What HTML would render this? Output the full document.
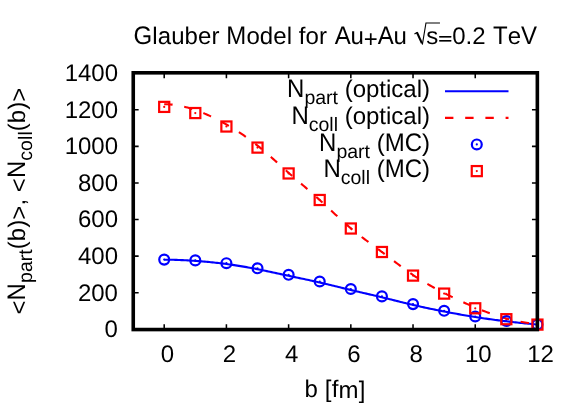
<!DOCTYPE html>
<html><head><meta charset="utf-8"><title>Glauber Model</title>
<style>html,body{margin:0;padding:0;background:#fff}svg{display:block;will-change:transform;text-rendering:geometricPrecision;font-kerning:none}</style></head>
<body>
<svg width="581" height="407" viewBox="0 0 581 407">
<rect width="581" height="407" fill="#fff"/>
<path d="M164.20 329.55V324.15M164.20 72.80V78.20M226.41 329.55V324.15M226.41 72.80V78.20M288.62 329.55V324.15M288.62 72.80V78.20M350.83 329.55V324.15M350.83 72.80V78.20M413.03 329.55V324.15M413.03 72.80V78.20M475.24 329.55V324.15M475.24 72.80V78.20M537.45 329.55V324.15M537.45 72.80V78.20M133.25 329.30H138.65M537.35 329.30H531.95M133.25 292.71H138.65M537.35 292.71H531.95M133.25 256.13H138.65M537.35 256.13H531.95M133.25 219.54H138.65M537.35 219.54H531.95M133.25 182.96H138.65M537.35 182.96H531.95M133.25 146.37H138.65M537.35 146.37H531.95M133.25 109.79H138.65M537.35 109.79H531.95M133.25 73.20H138.65M537.35 73.20H531.95" stroke="#000" stroke-width="1.55" fill="none"/>
<polyline points="164.20,259.70 165.76,259.70 167.31,259.71 168.87,259.73 170.42,259.75 171.98,259.78 173.53,259.82 175.09,259.86 176.64,259.91 178.20,259.97 179.75,260.03 181.31,260.09 182.86,260.16 184.42,260.24 185.97,260.32 187.53,260.40 189.08,260.49 190.64,260.59 192.19,260.69 193.75,260.79 195.30,260.90 196.86,261.01 198.41,261.13 199.97,261.25 201.53,261.37 203.08,261.50 204.64,261.63 206.19,261.77 207.75,261.91 209.30,262.06 210.86,262.21 212.41,262.36 213.97,262.52 215.52,262.69 217.08,262.86 218.63,263.04 220.19,263.22 221.74,263.40 223.30,263.60 224.85,263.80 226.41,264.00 227.96,264.21 229.52,264.43 231.07,264.65 232.63,264.87 234.18,265.11 235.74,265.34 237.29,265.59 238.85,265.84 240.41,266.09 241.96,266.35 243.52,266.61 245.07,266.88 246.63,267.15 248.18,267.43 249.74,267.72 251.29,268.00 252.85,268.30 254.40,268.59 255.96,268.89 257.51,269.20 259.07,269.51 260.62,269.82 262.18,270.14 263.73,270.46 265.29,270.78 266.84,271.11 268.40,271.44 269.95,271.77 271.51,272.10 273.06,272.44 274.62,272.77 276.18,273.11 277.73,273.45 279.29,273.78 280.84,274.12 282.40,274.46 283.95,274.80 285.51,275.13 287.06,275.47 288.62,275.80 290.17,276.13 291.73,276.46 293.28,276.79 294.84,277.12 296.39,277.45 297.95,277.78 299.50,278.10 301.06,278.43 302.61,278.76 304.17,279.09 305.72,279.42 307.28,279.75 308.83,280.09 310.39,280.42 311.94,280.76 313.50,281.10 315.06,281.45 316.61,281.80 318.17,282.15 319.72,282.50 321.28,282.86 322.83,283.22 324.39,283.59 325.94,283.95 327.50,284.32 329.05,284.70 330.61,285.07 332.16,285.45 333.72,285.83 335.27,286.21 336.83,286.59 338.38,286.97 339.94,287.35 341.49,287.73 343.05,288.12 344.60,288.50 346.16,288.87 347.71,289.25 349.27,289.63 350.83,290.00 352.38,290.37 353.94,290.74 355.49,291.11 357.05,291.47 358.60,291.84 360.16,292.20 361.71,292.56 363.27,292.92 364.82,293.28 366.38,293.64 367.93,294.00 369.49,294.37 371.04,294.73 372.60,295.09 374.15,295.45 375.71,295.82 377.26,296.19 378.82,296.56 380.37,296.93 381.93,297.30 383.48,297.68 385.04,298.05 386.59,298.44 388.15,298.82 389.71,299.20 391.26,299.59 392.82,299.97 394.37,300.36 395.93,300.74 397.48,301.13 399.04,301.51 400.59,301.90 402.15,302.28 403.70,302.66 405.26,303.04 406.81,303.42 408.37,303.79 409.92,304.17 411.48,304.53 413.03,304.90 414.59,305.26 416.14,305.62 417.70,305.97 419.25,306.32 420.81,306.67 422.36,307.01 423.92,307.35 425.48,307.69 427.03,308.02 428.59,308.36 430.14,308.68 431.70,309.01 433.25,309.33 434.81,309.65 436.36,309.96 437.92,310.27 439.47,310.58 441.03,310.89 442.58,311.20 444.14,311.50 445.69,311.80 447.25,312.10 448.80,312.39 450.36,312.69 451.91,312.98 453.47,313.26 455.02,313.55 456.58,313.83 458.13,314.11 459.69,314.39 461.24,314.66 462.80,314.93 464.36,315.20 465.91,315.47 467.47,315.73 469.02,315.99 470.58,316.25 472.13,316.50 473.69,316.75 475.24,317.00 476.80,317.24 478.35,317.49 479.91,317.72 481.46,317.96 483.02,318.19 484.57,318.42 486.13,318.64 487.68,318.87 489.24,319.09 490.79,319.30 492.35,319.52 493.90,319.73 495.46,319.93 497.01,320.14 498.57,320.34 500.13,320.54 501.68,320.73 503.24,320.92 504.79,321.11 506.35,321.30 507.90,321.48 509.46,321.66 511.01,321.84 512.57,322.02 514.12,322.19 515.68,322.36 517.23,322.53 518.79,322.70 520.34,322.86 521.90,323.02 523.45,323.19 525.01,323.35 526.56,323.51 528.12,323.66 529.67,323.82 531.23,323.98 532.78,324.13 534.34,324.29 535.89,324.44 537.45,324.60" fill="none" stroke="#0000ff" stroke-width="2.1"/>
<polyline points="164.20,104.20 165.76,104.22 167.31,104.27 168.87,104.35 170.42,104.46 171.98,104.60 173.53,104.77 175.09,104.98 176.64,105.21 178.20,105.47 179.75,105.75 181.31,106.07 182.86,106.41 184.42,106.77 185.97,107.16 187.53,107.58 189.08,108.02 190.64,108.48 192.19,108.96 193.75,109.47 195.30,110.00 196.86,110.55 198.41,111.12 199.97,111.71 201.53,112.32 203.08,112.95 204.64,113.60 206.19,114.26 207.75,114.95 209.30,115.65 210.86,116.37 212.41,117.11 213.97,117.87 215.52,118.64 217.08,119.43 218.63,120.24 220.19,121.06 221.74,121.90 223.30,122.75 224.85,123.62 226.41,124.50 227.96,125.40 229.52,126.31 231.07,127.23 232.63,128.17 234.18,129.13 235.74,130.10 237.29,131.09 238.85,132.10 240.41,133.12 241.96,134.16 243.52,135.22 245.07,136.29 246.63,137.39 248.18,138.50 249.74,139.64 251.29,140.79 252.85,141.96 254.40,143.15 255.96,144.37 257.51,145.60 259.07,146.86 260.62,148.13 262.18,149.42 263.73,150.74 265.29,152.06 266.84,153.40 268.40,154.75 269.95,156.12 271.51,157.49 273.06,158.87 274.62,160.26 276.18,161.65 277.73,163.05 279.29,164.45 280.84,165.85 282.40,167.25 283.95,168.64 285.51,170.03 287.06,171.42 288.62,172.80 290.17,174.17 291.73,175.54 293.28,176.90 294.84,178.25 296.39,179.60 297.95,180.94 299.50,182.29 301.06,183.63 302.61,184.97 304.17,186.31 305.72,187.66 307.28,189.01 308.83,190.36 310.39,191.71 311.94,193.07 313.50,194.44 315.06,195.82 316.61,197.20 318.17,198.60 319.72,200.00 321.28,201.42 322.83,202.84 324.39,204.28 325.94,205.72 327.50,207.16 329.05,208.61 330.61,210.06 332.16,211.51 333.72,212.96 335.27,214.41 336.83,215.85 338.38,217.28 339.94,218.71 341.49,220.12 343.05,221.53 344.60,222.91 346.16,224.29 347.71,225.64 349.27,226.98 350.83,228.30 352.38,229.60 353.94,230.87 355.49,232.13 357.05,233.37 358.60,234.59 360.16,235.80 361.71,236.99 363.27,238.17 364.82,239.35 366.38,240.51 367.93,241.67 369.49,242.82 371.04,243.97 372.60,245.11 374.15,246.25 375.71,247.40 377.26,248.54 378.82,249.69 380.37,250.84 381.93,252.00 383.48,253.17 385.04,254.34 386.59,255.52 388.15,256.70 389.71,257.88 391.26,259.06 392.82,260.25 394.37,261.43 395.93,262.61 397.48,263.78 399.04,264.95 400.59,266.12 402.15,267.27 403.70,268.41 405.26,269.55 406.81,270.67 408.37,271.77 409.92,272.87 411.48,273.94 413.03,275.00 414.59,276.04 416.14,277.06 417.70,278.06 419.25,279.05 420.81,280.02 422.36,280.97 423.92,281.91 425.48,282.83 427.03,283.74 428.59,284.64 430.14,285.52 431.70,286.39 433.25,287.25 434.81,288.10 436.36,288.94 437.92,289.77 439.47,290.59 441.03,291.40 442.58,292.20 444.14,293.00 445.69,293.79 447.25,294.57 448.80,295.35 450.36,296.12 451.91,296.88 453.47,297.64 455.02,298.39 456.58,299.13 458.13,299.87 459.69,300.60 461.24,301.32 462.80,302.03 464.36,302.74 465.91,303.44 467.47,304.14 469.02,304.82 470.58,305.50 472.13,306.18 473.69,306.84 475.24,307.50 476.80,308.15 478.35,308.79 479.91,309.43 481.46,310.06 483.02,310.67 484.57,311.28 486.13,311.88 487.68,312.47 489.24,313.04 490.79,313.60 492.35,314.16 493.90,314.70 495.46,315.22 497.01,315.74 498.57,316.23 500.13,316.72 501.68,317.19 503.24,317.64 504.79,318.08 506.35,318.50 507.90,318.90 509.46,319.29 511.01,319.67 512.57,320.03 514.12,320.37 515.68,320.70 517.23,321.02 518.79,321.33 520.34,321.63 521.90,321.92 523.45,322.21 525.01,322.48 526.56,322.75 528.12,323.01 529.67,323.26 531.23,323.52 532.78,323.77 534.34,324.01 535.89,324.26 537.45,324.50" fill="none" stroke="#ff0000" stroke-width="2.1" stroke-dasharray="8.4 11.8"/>
<path d="M445 91.3H508.5" stroke="#0000ff" stroke-width="2.1"/>
<path d="M445 117.85H508.5" stroke="#ff0000" stroke-width="2.1" stroke-dasharray="8.4 11.8"/>
<circle cx="164.20" cy="259.60" r="4.95" fill="none" stroke="#0000ff" stroke-width="2.2"/><circle cx="164.20" cy="259.60" r="1.1" fill="#0000ff"/>
<circle cx="195.30" cy="260.40" r="4.95" fill="none" stroke="#0000ff" stroke-width="2.2"/><circle cx="195.30" cy="260.40" r="1.1" fill="#0000ff"/>
<circle cx="226.41" cy="263.20" r="4.95" fill="none" stroke="#0000ff" stroke-width="2.2"/><circle cx="226.41" cy="263.20" r="1.1" fill="#0000ff"/>
<circle cx="257.51" cy="268.30" r="4.95" fill="none" stroke="#0000ff" stroke-width="2.2"/><circle cx="257.51" cy="268.30" r="1.1" fill="#0000ff"/>
<circle cx="288.62" cy="274.80" r="4.95" fill="none" stroke="#0000ff" stroke-width="2.2"/><circle cx="288.62" cy="274.80" r="1.1" fill="#0000ff"/>
<circle cx="319.72" cy="281.50" r="4.95" fill="none" stroke="#0000ff" stroke-width="2.2"/><circle cx="319.72" cy="281.50" r="1.1" fill="#0000ff"/>
<circle cx="350.83" cy="289.00" r="4.95" fill="none" stroke="#0000ff" stroke-width="2.2"/><circle cx="350.83" cy="289.00" r="1.1" fill="#0000ff"/>
<circle cx="381.93" cy="296.40" r="4.95" fill="none" stroke="#0000ff" stroke-width="2.2"/><circle cx="381.93" cy="296.40" r="1.1" fill="#0000ff"/>
<circle cx="413.03" cy="304.10" r="4.95" fill="none" stroke="#0000ff" stroke-width="2.2"/><circle cx="413.03" cy="304.10" r="1.1" fill="#0000ff"/>
<circle cx="444.14" cy="310.80" r="4.95" fill="none" stroke="#0000ff" stroke-width="2.2"/><circle cx="444.14" cy="310.80" r="1.1" fill="#0000ff"/>
<circle cx="475.24" cy="316.50" r="4.95" fill="none" stroke="#0000ff" stroke-width="2.2"/><circle cx="475.24" cy="316.50" r="1.1" fill="#0000ff"/>
<circle cx="506.35" cy="321.00" r="4.95" fill="none" stroke="#0000ff" stroke-width="2.2"/><circle cx="506.35" cy="321.00" r="1.1" fill="#0000ff"/>
<circle cx="537.45" cy="324.50" r="4.95" fill="none" stroke="#0000ff" stroke-width="2.2"/><circle cx="537.45" cy="324.50" r="1.1" fill="#0000ff"/>
<circle cx="476.80" cy="144.45" r="4.95" fill="none" stroke="#0000ff" stroke-width="2.2"/><circle cx="476.80" cy="144.45" r="1.1" fill="#0000ff"/>
<rect x="159.15" y="101.85" width="10.10" height="10.10" fill="none" stroke="#ff0000" stroke-width="2.2"/><circle cx="164.20" cy="106.90" r="1.1" fill="#ff0000"/>
<rect x="190.25" y="108.00" width="10.10" height="10.10" fill="none" stroke="#ff0000" stroke-width="2.2"/><circle cx="195.30" cy="113.05" r="1.1" fill="#ff0000"/>
<rect x="221.36" y="121.45" width="10.10" height="10.10" fill="none" stroke="#ff0000" stroke-width="2.2"/><circle cx="226.41" cy="126.50" r="1.1" fill="#ff0000"/>
<rect x="252.46" y="142.55" width="10.10" height="10.10" fill="none" stroke="#ff0000" stroke-width="2.2"/><circle cx="257.51" cy="147.60" r="1.1" fill="#ff0000"/>
<rect x="283.57" y="168.40" width="10.10" height="10.10" fill="none" stroke="#ff0000" stroke-width="2.2"/><circle cx="288.62" cy="173.45" r="1.1" fill="#ff0000"/>
<rect x="314.67" y="194.95" width="10.10" height="10.10" fill="none" stroke="#ff0000" stroke-width="2.2"/><circle cx="319.72" cy="200.00" r="1.1" fill="#ff0000"/>
<rect x="345.78" y="223.45" width="10.10" height="10.10" fill="none" stroke="#ff0000" stroke-width="2.2"/><circle cx="350.83" cy="228.50" r="1.1" fill="#ff0000"/>
<rect x="376.88" y="246.95" width="10.10" height="10.10" fill="none" stroke="#ff0000" stroke-width="2.2"/><circle cx="381.93" cy="252.00" r="1.1" fill="#ff0000"/>
<rect x="407.98" y="270.55" width="10.10" height="10.10" fill="none" stroke="#ff0000" stroke-width="2.2"/><circle cx="413.03" cy="275.60" r="1.1" fill="#ff0000"/>
<rect x="439.09" y="288.55" width="10.10" height="10.10" fill="none" stroke="#ff0000" stroke-width="2.2"/><circle cx="444.14" cy="293.60" r="1.1" fill="#ff0000"/>
<rect x="470.19" y="303.25" width="10.10" height="10.10" fill="none" stroke="#ff0000" stroke-width="2.2"/><circle cx="475.24" cy="308.30" r="1.1" fill="#ff0000"/>
<rect x="501.30" y="314.15" width="10.10" height="10.10" fill="none" stroke="#ff0000" stroke-width="2.2"/><circle cx="506.35" cy="319.20" r="1.1" fill="#ff0000"/>
<rect x="532.40" y="319.55" width="10.10" height="10.10" fill="none" stroke="#ff0000" stroke-width="2.2"/><circle cx="537.45" cy="324.60" r="1.1" fill="#ff0000"/>
<rect x="471.75" y="166.05" width="10.10" height="10.10" fill="none" stroke="#ff0000" stroke-width="2.2"/><circle cx="476.80" cy="171.10" r="1.1" fill="#ff0000"/>
<rect x="133.25" y="72.80" width="404.10" height="256.75" fill="none" stroke="#000" stroke-width="3.6"/>
<g font-family="Liberation Sans, sans-serif" font-size="24" fill="#000" transform="rotate(0.02 335 200)">
<text x="104.65" y="337.30">0</text>
<text x="77.96" y="300.71">200</text>
<text x="77.96" y="264.13">400</text>
<text x="77.96" y="227.54">600</text>
<text x="77.96" y="190.96">800</text>
<text x="64.61" y="154.37">1000</text>
<text x="64.61" y="117.79">1200</text>
<text x="64.61" y="81.20">1400</text>
<text x="160.73" y="362.00">0</text>
<text x="222.93" y="362.00">2</text>
<text x="285.14" y="362.00">4</text>
<text x="347.35" y="362.00">6</text>
<text x="409.56" y="362.00">8</text>
<text x="465.09" y="362.00">10</text>
<text x="527.30" y="362.00">12</text>
<text x="304.49" y="397.50" letter-spacing="0.200">b [fm]</text>
<text transform="translate(133.50 44.20) scale(1 1.060)" letter-spacing="0.131">G</text>
<text x="152.30" y="44.20" xml:space="preserve" letter-spacing="0.073">lauber </text>
<text transform="translate(226.20 44.20) scale(1 1.060)" letter-spacing="0.140">M</text>
<text x="246.33" y="44.20" letter-spacing="0.070">odel for</text>
<text transform="translate(334.60 44.20) scale(1 1.060)" letter-spacing="-0.128">A</text>
<text x="350.48" y="44.20" letter-spacing="-0.107">u</text>
<text x="363.72" y="46.85" letter-spacing="-0.112">+</text>
<text transform="translate(377.62 44.20) scale(1 1.060)" letter-spacing="-0.128">A</text>
<text x="393.50" y="44.20" letter-spacing="-0.107">u</text>
<path d="M414.4 34L417 32.4" fill="none" stroke="#000" stroke-width="1.1"/><path d="M416.8 32.2L421.9 43.4" fill="none" stroke="#000" stroke-width="2.1"/><path d="M422.3 44.6L425.9 22.9H439.9" fill="none" stroke="#000" stroke-width="1.1" stroke-linejoin="miter"/>
<text x="426.20" y="44.20">s</text>
<text transform="translate(438.20 44.20) scale(1 0.675)" stroke="#000" stroke-width="0.5" vector-effect="non-scaling-stroke">=</text>
<text x="452.22" y="44.20">0.2</text>
<text transform="translate(493.00 44.20) scale(1 1.060)">T</text>
<text x="507.66" y="44.20">e</text>
<text transform="translate(521.01 44.20) scale(1 1.060)">V</text>
<text transform="translate(287.04 97.30) scale(1 1.060)">N</text>
<text x="304.37" y="104.50" font-size="19.5">part</text>
<text x="337.97" y="97.30" xml:space="preserve"> (optical)</text>
<text transform="translate(291.38 124.00) scale(1 1.060)">N</text>
<text x="308.71" y="131.20" font-size="19.5">coll</text>
<text x="337.97" y="124.00" xml:space="preserve"> (optical)</text>
<text transform="translate(319.09 150.60) scale(1 1.060)">N</text>
<text x="336.42" y="157.80" font-size="19.5">part</text>
<text x="370.02" y="150.60" xml:space="preserve"> (</text>
<text transform="translate(384.68 150.60) scale(1 1.060)">MC</text>
<text x="422.01" y="150.60">)</text>
<text transform="translate(323.43 177.00) scale(1 1.060)">N</text>
<text x="340.76" y="184.20" font-size="19.5">coll</text>
<text x="370.02" y="177.00" xml:space="preserve"> (</text>
<text transform="translate(384.68 177.00) scale(1 1.060)">MC</text>
<text x="422.01" y="177.00">)</text>
<g transform="translate(25.0 201.2) rotate(-90)">
<text x="-113.47" y="2.30" letter-spacing="0.084">&lt;</text>
<text transform="translate(-99.37 0.00) scale(1 1.060)" letter-spacing="0.104">N</text>
<text x="-81.93" y="7.20" font-size="19.5" letter-spacing="0.050">part</text>
<text x="-48.13" y="0.00" letter-spacing="0.059">(b)</text>
<text x="-18.62" y="2.30" letter-spacing="0.084">&gt;</text>
<text x="-4.52" y="0.00" xml:space="preserve" letter-spacing="0.040">, </text>
<text x="8.89" y="2.30" letter-spacing="0.084">&lt;</text>
<text transform="translate(22.99 0.00) scale(1 1.060)" letter-spacing="0.104">N</text>
<text x="40.43" y="7.20" font-size="19.5" letter-spacing="0.044">coll</text>
<text x="69.86" y="0.00" letter-spacing="0.059">(b)</text>
<text x="99.37" y="2.30" letter-spacing="0.084">&gt;</text>
</g>
</g>
</svg>
</body></html>
